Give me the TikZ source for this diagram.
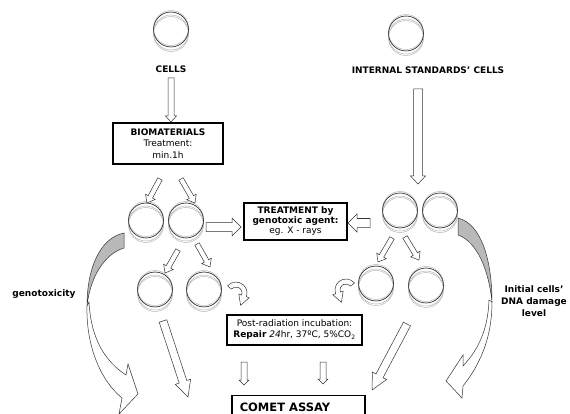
\documentclass[tikz,border=0pt]{standalone}
\usepackage{fontspec}
\setmainfont{DejaVu Sans}
\usetikzlibrary{calc}
\newcommand\blockarrow[7]{%
  \pgfmathsetmacro\baAng{atan2((#2)-(#4),(#3)-(#1))}%
  \pgfmathsetmacro\baLen{veclen((#3)-(#1),(#4)-(#2))}%
  \pgfmathsetmacro\baBase{\baLen-(#7)}%
  \begin{scope}[shift={(#1,#2)},rotate=\baAng]
    \draw[hollow] (0,-#5) -- (\baBase,-#5) -- (\baBase,-#6) -- (\baLen,0) -- (\baBase,#6) -- (\baBase,#5) -- (0,#5) -- cycle;
  \end{scope}}
\begin{document}
\begin{tikzpicture}[x=1pt,y=-1pt,
  hollow/.style={draw=black!80,line width=0.5pt,fill=white,line join=miter},
  shade/.style={draw=black!80,line width=0.5pt,fill=gray!55},
  lbl/.style={font=\bfseries\fontsize{9}{11}\selectfont,inner sep=0pt},
  box/.style={draw=black,line width=1.2pt,fill=white,inner sep=0pt,align=center,font=\fontsize{9}{11}\selectfont},
  dish/.pic={
    \foreach \o in {3,1.5,-1.5,-3}{\draw[gray!60,line width=0.45pt] (0,\o) circle[radius=17.5];}
    \draw[black!85,line width=0.55pt] (0,-1.5) circle[radius=17.5];
  }]
\useasboundingbox (0,0) rectangle (570,414);
\fill[white] (0,0) rectangle (570,414);

% dishes
\path (171,31) pic {dish} coordinate (d0);
\path (406,35) pic {dish} coordinate (dis);
\path (146,222) pic {dish} coordinate (dA);
\path (186,222) pic {dish} coordinate (dB);
\path (400,212) pic {dish} coordinate (dC);
\path (440,212) pic {dish} coordinate (dD);
\path (155,291) pic {dish} coordinate (dG);
\path (204,291) pic {dish} coordinate (dH);
\path (376,285) pic {dish} coordinate (dE);
\path (426,287) pic {dish} coordinate (dF);

% labels
\node[lbl] (cellslbl) at (171,69) {CELLS};
\node[lbl] (islbl) at (428,70) {INTERNAL STANDARDS’ CELLS};
\node[lbl] (geno) at (44,294) {genotoxicity};
\node[lbl,align=center,font=\bfseries\fontsize{9}{12}\selectfont] (initial) at (534,301) {Initial cells’\\DNA damage\\level};

% boxes
\node[box,minimum width=110pt,minimum height=41pt,font=\fontsize{9}{11.5}\selectfont] (bio) at (168,143.5) {\textbf{BIOMATERIALS}\\Treatment:\\min.1h};
\node[box,minimum width=103pt,minimum height=37pt,font=\fontsize{9}{10}\selectfont] (treat) at (295.5,221.5) {\textbf{TREATMENT by}\\\textbf{genotoxic agent:}\\eg. X - rays};
\node[box,minimum width=135pt,minimum height=30pt] (post) at (294.5,330) {Post-radiation incubation:\\\textbf{Repair} \textit{24}hr, 37ºC, 5\%CO\textsubscript{2}};
\node[box,minimum width=133pt,minimum height=30pt,anchor=north] (comet) at (298.5,395) {};
\node[lbl,font=\bfseries\fontsize{11.5}{13}\selectfont] (comettxt) at (285,407) {COMET ASSAY};

% straight block arrows
\blockarrow{171}{78}{171}{122}{3}{5.5}{6}
\blockarrow{160}{179}{147}{203}{2.5}{5.5}{7}
\blockarrow{181}{179}{195}{203}{2.5}{5.5}{7}
\blockarrow{206}{227}{241}{227}{4.5}{9}{9}
\blockarrow{370}{223}{348}{223}{4.5}{9}{9}
\blockarrow{418}{89}{418}{184}{4.5}{7.5}{8}
\blockarrow{178}{250}{165}{273}{2.5}{5.5}{7}
\blockarrow{197}{244}{210}{267}{2.5}{5.5}{7}
\blockarrow{392}{238}{378}{262}{2.5}{5.5}{7}
\blockarrow{405}{237}{419}{260}{2.5}{5.5}{7}
\blockarrow{244}{362}{244}{385}{3}{5}{5}
\blockarrow{323}{362}{323}{384}{3}{5}{5}
\blockarrow{163}{321}{188}{397}{4}{8}{16}
\blockarrow{407}{324}{372}{390}{4}{8}{16}

% small curled arrows
\coordinate (cl) at (236,293);
\draw[hollow] ($(cl)+(-140:11)$) arc[start angle=-140,end angle=20,radius=11]
  -- ($(cl)+(20:14)$) -- ($(cl)+(20:8.5)+(110:10)$) -- ($(cl)+(20:3)$) -- ($(cl)+(20:6)$)
  arc[start angle=20,end angle=-140,radius=6] -- cycle;
\coordinate (cr) at (346,290);
\draw[hollow] ($(cr)+(-40:11)$) arc[start angle=-40,end angle=-200,radius=11]
  -- ($(cr)+(-200:14)$) -- ($(cr)+(-200:8.5)+(70:10)$) -- ($(cr)+(-200:3)$) -- ($(cr)+(-200:6)$)
  arc[start angle=-200,end angle=-40,radius=6] -- cycle;

% big curved arrows
\draw[hollow] (87,306) .. controls (86,345) and (100,380) .. (122,398) -- (119,414) -- (138,394) -- (128,364) -- (126,375) .. controls (106,362) and (91,340) .. (89,302) -- cycle;
\draw[shade] (124,233) .. controls (100,238) and (87,268) .. (87,306) .. controls (90,278) and (104,254) .. (124,248) -- cycle;

\draw[hollow] (492,302) .. controls (492,335) and (482,362) .. (463,386) -- (462,398) -- (446,381) -- (463,355) -- (463,366) .. controls (478,350) and (488,330) .. (489,300) -- cycle;
\draw[shade] (458,218) .. controls (482,224) and (492,262) .. (492,302) .. controls (489,272) and (478,242) .. (458,235) -- cycle;
\end{tikzpicture}
\end{document}
